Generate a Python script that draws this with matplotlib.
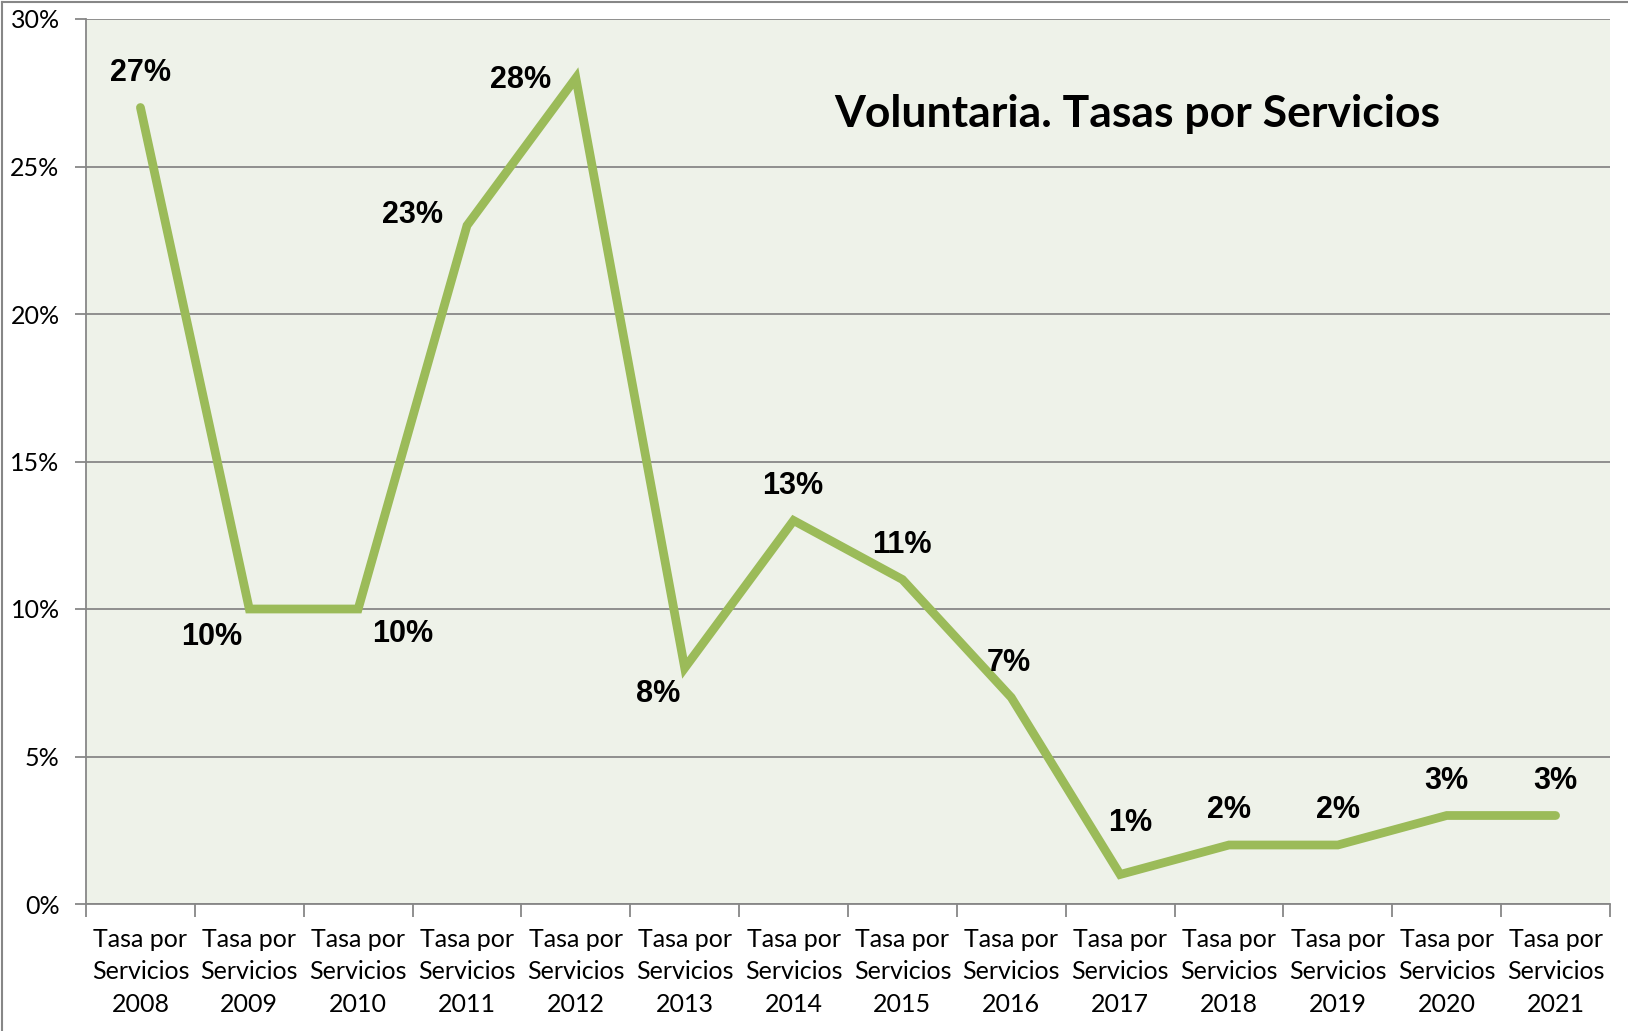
import matplotlib
matplotlib.use("Agg")
import matplotlib.pyplot as plt
from matplotlib.lines import Line2D
import numpy as np

years = ["2008", "2009", "2010", "2011", "2012", "2013", "2014",
         "2015", "2016", "2017", "2018", "2019", "2020", "2021"]
categories = ["Tasa por\nServicios\n" + y for y in years]
values = [27, 10, 10, 23, 28, 8, 13, 11, 7, 1, 2, 2, 3, 3]
value_labels = [f"{v}%" for v in values]
y_ticks = [0, 5, 10, 15, 20, 25, 30]
y_tick_labels = [f"{t}%" for t in y_ticks]
title = "Voluntaria. Tasas por Servicios"

# label offsets (points) for layout
label_offsets = [(0, 25), (-27, -20), (32, -18), (-39, 7.5), (-40, -1.5),
                 (-19, -19), (-0.7, 25), (-0.7, 25), (-1.5, 25), (7.5, 37),
                 (0, 25), (0, 25), (0, 25), (0, 25)]

fig = plt.figure(figsize=(16.28, 10.31), dpi=100)
ax = fig.add_axes([86/1628, 1 - 904/1031, (1610-86)/1628, (904-19)/1031])
ax.set_facecolor("#EEF2E9")

x = np.arange(len(values))
ax.plot(x, values, color="#9BBB59", lw=6.3, solid_capstyle="round",
        solid_joinstyle="miter", zorder=3)

ax.set_xlim(-0.5, len(values) - 0.5)
ax.set_ylim(0, 30)

gray = "#878787"
ax.set_yticks(y_ticks)
ax.set_yticklabels(y_tick_labels, family="Lato", fontsize=18)
ax.yaxis.grid(True, color=gray, lw=1.3)
ax.set_axisbelow(True)

ax.set_xticks(np.arange(-0.5, len(values), 1.0))
ax.set_xticklabels([])
ax.set_xticks(x, minor=True)
ax.set_xticklabels(categories, minor=True, family="Lato", fontsize=18,
                   linespacing=1.5)
ax.tick_params(axis="x", which="minor", length=0, pad=17)
ax.tick_params(axis="x", which="major", length=9, width=1.3, color=gray,
               direction="out")
ax.tick_params(axis="y", length=8, width=1.3, color=gray, pad=11)

for s in ["top", "right"]:
    ax.spines[s].set_visible(False)
for s in ["left", "bottom"]:
    ax.spines[s].set_color(gray)
    ax.spines[s].set_linewidth(1.3)

for xi, v, lab, off in zip(x, values, value_labels, label_offsets):
    ax.annotate(lab, (xi, v), xytext=off, textcoords="offset points",
                ha="center", va="center", fontsize=22, fontweight="bold",
                family="Liberation Sans", color="black", zorder=4)

ax.text(0.69, 0.893, title, transform=ax.transAxes, ha="center", va="center",
        fontsize=32, fontweight="bold", family="Lato", color="black")

fig.add_artist(Line2D([2/1628, 2/1628], [0, 1 - 2/1031], color=gray, lw=1.5,
                      transform=fig.transFigure))
fig.add_artist(Line2D([2/1628, 1], [1 - 2/1031, 1 - 2/1031], color=gray, lw=1.5,
                      transform=fig.transFigure))

fig.savefig("out.png", dpi=100, facecolor="white")
